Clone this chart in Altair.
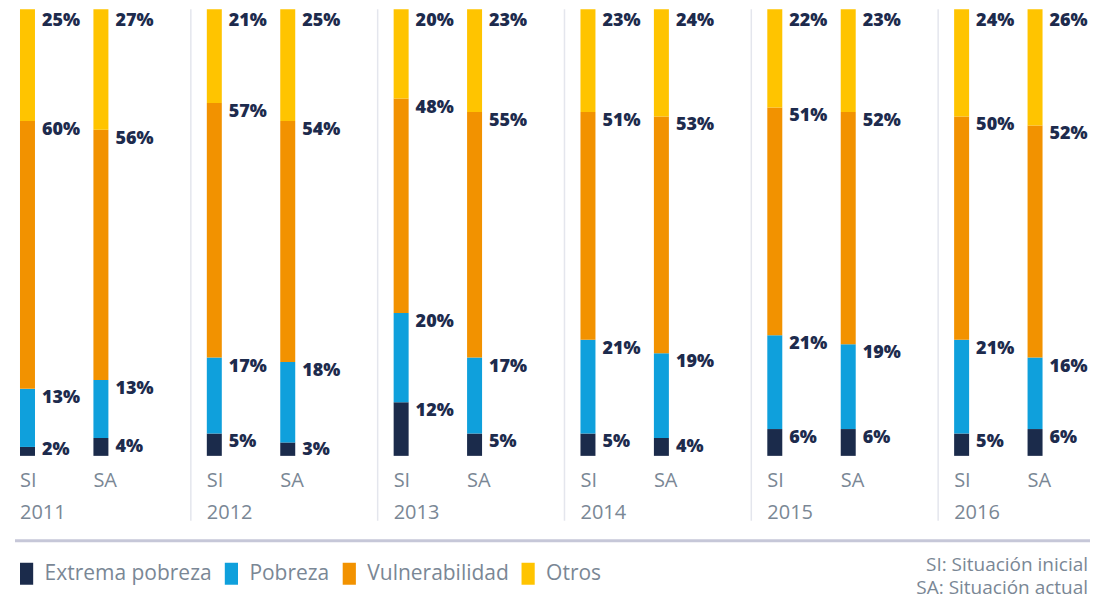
import altair as alt
import pandas as pd

years = [2011, 2012, 2013, 2014, 2015, 2016]
situaciones = ["SI", "SA"]
categorias = ["Extrema pobreza", "Pobreza", "Vulnerabilidad", "Otros"]
colores = ["#1b2b4b", "#0fa0dc", "#f29200", "#ffc400"]

extrema_si = [2, 5, 12, 5, 6, 5]
extrema_sa = [4, 3, 5, 4, 6, 6]
pobreza_si = [13, 17, 20, 21, 21, 21]
pobreza_sa = [13, 18, 17, 19, 19, 16]
vulnerab_si = [60, 57, 48, 51, 51, 50]
vulnerab_sa = [56, 54, 55, 53, 52, 52]
otros_si = [25, 21, 20, 23, 22, 24]
otros_sa = [27, 25, 23, 24, 23, 26]

nota = ["SI: Situación inicial", "SA: Situación actual"]

series = {
    ("SI", "Extrema pobreza"): extrema_si,
    ("SA", "Extrema pobreza"): extrema_sa,
    ("SI", "Pobreza"): pobreza_si,
    ("SA", "Pobreza"): pobreza_sa,
    ("SI", "Vulnerabilidad"): vulnerab_si,
    ("SA", "Vulnerabilidad"): vulnerab_sa,
    ("SI", "Otros"): otros_si,
    ("SA", "Otros"): otros_sa,
}

rows = []
for i, yr in enumerate(years):
    for s in situaciones:
        for k, c in enumerate(categorias):
            rows.append({"year": yr, "sit": s, "cat": c, "orden": k,
                         "value": series[(s, c)][i]})
df = pd.DataFrame(rows)

GRAY = "#7a8795"
NAVY = "#1d2b4d"
FONT = "Open Sans"
H = 447

x_enc = alt.X(
    "sit:N",
    sort=situaciones,
    scale=alt.Scale(type="point", domain=situaciones, range=[7.5, 81],
                    padding=0),
    axis=None,
)

base = alt.Chart().transform_stack(
    stack="value", groupby=["year", "sit"], as_=["lo", "hi"],
    sort=[alt.SortField("orden", order="ascending")],
).transform_calculate(
    lbl="max(min(datum.hi - 2, 97.3), 1.4)",
    txt="datum.value + '%'",
)

bars = base.mark_bar(size=15).encode(
    x=x_enc,
    y=alt.Y("hi:Q", scale=alt.Scale(domain=[0, 100]), axis=None),
    y2="lo:Q",
    color=alt.Color(
        "cat:N",
        scale=alt.Scale(domain=categorias, range=colores),
        legend=alt.Legend(
            title=None, orient="none", legendX=-4.4, legendY=554,
            direction="horizontal",
            symbolType="M-0.6,-1H0.6V1H-0.6Z", symbolSize=484,
            symbolStrokeWidth=0, symbolOpacity=1,
            labelFontSize=21, labelFont=FONT, labelColor=GRAY,
            labelOffset=7, columnPadding=8, labelLimit=400,
        ),
    ),
)

labels = base.mark_text(
    align="left", baseline="middle", dx=14.5, font=FONT, fontWeight=800,
    fontSize=18, color=NAVY,
).encode(
    x=x_enc,
    y=alt.Y("lbl:Q"),
    text="txt:N",
)

sit_labels = base.transform_filter("datum.orden == 0").mark_text(
    align="left", baseline="top", dx=-7.5, font=FONT, fontSize=20,
    color=GRAY,
).encode(
    x=x_enc,
    y=alt.value(H + 15),
    text="sit:N",
)

seps = base.transform_filter(
    f"datum.year != {years[-1]} && datum.orden == 0 && datum.sit == 'SI'"
).mark_rule(color="#e4e6ed", strokeWidth=1.5).encode(
    x=alt.value(171), y=alt.value(0), y2=alt.value(512)
)

top = alt.layer(bars, labels, sit_labels, seps, data=df).properties(
    width=130, height=H
).facet(
    column=alt.Column(
        "year:N",
        header=alt.Header(title=None, orient="bottom", labelOrient="bottom",
                          labelAnchor="start", labelAlign="left",
                          labelFontSize=20, labelColor=GRAY, labelFont=FONT,
                          labelPadding=47),
    ),
    spacing=57,
    bounds="flush",
)

dk = pd.DataFrame({"k": [0]})
hline = alt.Chart(dk).mark_rule(color="#c6c7d8", strokeWidth=3).encode(
    x=alt.value(-5), x2=alt.value(1071), y=alt.value(0)
)
note = alt.Chart(dk).mark_text(
    text=nota, align="right", baseline="top", lineHeight=23, fontSize=19,
    font=FONT, color=GRAY,
).encode(x=alt.value(1069), y=alt.value(15))

bottom = alt.layer(hline, note).properties(width=1060, height=40)

chart = alt.vconcat(top, bottom, spacing=16).properties(
    padding={"left": 5, "top": 0, "right": 0, "bottom": 0}
).configure_view(stroke=None)

chart.save("out.html", embed_options={"renderer": "svg", "actions": False})
